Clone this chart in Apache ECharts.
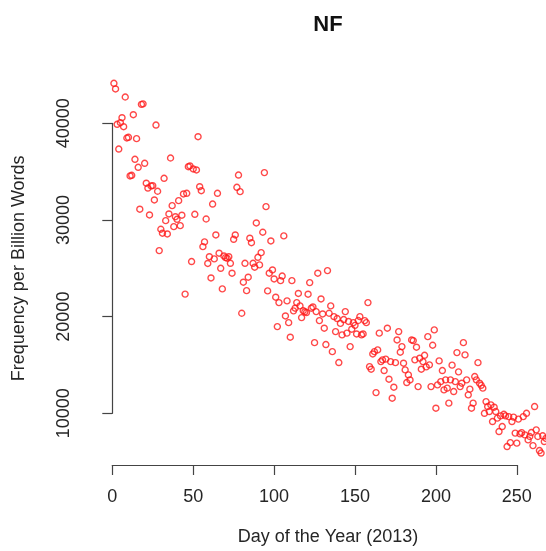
<!DOCTYPE html>
<html>
<head>
<meta charset="utf-8">
<script src="https://cdn.jsdelivr.net/npm/echarts@6/dist/echarts.min.js"></script>
<style>
html,body{margin:0;padding:0;background:#fff;}
#chart{width:546px;height:551px;}
</style>
</head>
<body>
<div id="chart"></div>
<script>
var chartTitle = "NF";
var xLabel = "Day of the Year (2013)";
var yLabel = "Frequency per Billion Words";
var xTicks = [0, 50, 100, 150, 200, 250];
var yTicks = [10000, 20000, 30000, 40000];

var days = [
  1,2,3,4,5,6,7,8,9,10,11,12,13,14,15,16,17,18,19,20,
  21,22,23,24,25,26,27,28,29,30,31,32,33,34,35,36,37,38,39,40,
  41,42,43,44,45,46,47,48,49,50,51,52,53,54,55,56,57,58,59,60,
  61,62,63,64,65,66,67,68,69,70,71,72,73,74,75,76,77,78,79,80,
  81,82,83,84,85,86,87,88,89,90,91,92,93,94,95,96,97,98,99,100,
  101,102,103,104,105,106,107,108,109,110,111,112,113,114,115,116,117,118,119,120,
  121,122,123,124,125,126,127,128,129,130,131,132,133,134,135,136,137,138,139,140,
  141,142,143,144,145,146,147,148,149,150,151,152,153,154,155,156,157,158,159,160,
  161,162,163,164,165,166,167,168,169,170,171,172,173,174,175,176,177,178,179,180,
  181,182,183,184,185,186,187,188,189,190,191,192,193,194,195,196,197,198,199,200,
  201,202,203,204,205,206,207,208,209,210,211,212,213,214,215,216,217,218,219,220,
  221,222,223,224,225,226,227,228,229,230,231,232,233,234,235,236,237,238,239,240,
  241,242,243,244,245,246,247,248,249,250,251,252,253,254,255,256,257,258,259,260,
  261,262,263,264,265,266,267,268
];
var freq = [
  44140,43550,39900,37340,40060,40580,39650,42720,38480,38550,34550,34620,40890,36280,38410,35450,31110,41960,42010,35860,
  33800,33300,30520,33520,33550,32070,39820,32970,26830,29040,28630,34310,29930,28550,30620,36410,31480,29310,30340,30070,
  32000,29410,30490,32690,22330,32760,35510,35585,25700,35275,30590,35170,38610,33440,33030,27240,27730,30100,25500,26200,
  24000,31650,25970,28450,32760,26560,25000,22870,26280,26100,26040,26200,25520,24490,28000,28450,33380,34650,32930,20350,
  23560,25520,22690,24080,28110,27650,25520,25110,29690,26140,25350,26620,28730,34900,31380,22660,24490,27830,24830,23900,
  22010,18970,21450,23720,24200,28350,20070,21630,19380,17870,23720,20600,20870,21450,22400,21110,19900,20620,20500,20420,
  22320,23520,20870,21000,17310,20520,24490,19590,21830,20280,18800,17110,24760,20350,21110,16380,20000,18450,19800,15250,
  19300,18110,19700,20520,18290,19500,16900,18700,19380,19100,18210,19600,20000,18110,18210,19590,19380,21450,14830,14560,
  16140,16380,12140,16560,18290,15350,15530,14420,15600,18800,13530,15350,11560,12700,15240,17590,18450,16320,16900,15180,
  14490,13180,13970,13450,17590,17520,15530,16840,12760,15700,14560,15350,16000,14800,17930,15010,12760,17040,18630,10530,
  12940,15420,13280,14420,12420,13460,12600,11050,13460,14980,12250,13280,16280,14290,12760,13110,17310,16040,13460,11910,
  12500,10530,11050,13800,13460,15240,13110,12900,12600,10000,11210,10700,10180,10870,9150,10630,10180,9500,8110,9730,
  8630,9900,9730,6560,9660,6970,9150,9600,7950,6910,9400,7870,8000,9660,7770,10000,7250,7600,8010,6660,
  10700,8290,7600,6150,5890,7670,7080,7400
];

var points = days.map(function (d, i) { return [d, freq[i]]; });

var FONT = "'Liberation Sans', Arial, Helvetica, sans-serif";
var chart = echarts.init(document.getElementById('chart'), null, {renderer: 'canvas'});
chart.setOption({
  animation: false,
  backgroundColor: '#ffffff',
  graphic: [{
    type: 'text',
    x: 328,
    y: 14,
    style: {
      text: chartTitle,
      textAlign: 'center',
      textVerticalAlign: 'top',
      fontFamily: FONT, fontSize: 22, fontWeight: 'bold', fill: '#111'
    }
  }],
  grid: {left: 112.3, right: 29.2, top: 123.3, bottom: 137.7, containLabel: false},
  xAxis: {
    type: 'value',
    min: xTicks[0], max: xTicks[xTicks.length - 1], interval: 50,
    offset: 51.7,
    name: xLabel,
    nameLocation: 'middle',
    nameGap: 63,
    nameTextStyle: {fontFamily: FONT, fontSize: 18, color: '#262626', padding: [0, 0, 0, 27]},
    axisLine: {show: true, lineStyle: {color: '#444', width: 1.2}},
    axisTick: {show: true, length: 10, lineStyle: {color: '#444', width: 1.2}},
    axisLabel: {fontFamily: FONT, fontSize: 18, color: '#262626', margin: 23,
      formatter: function (v) { return String(v); }},
    splitLine: {show: false}
  },
  yAxis: {
    type: 'value',
    min: yTicks[0], max: yTicks[yTicks.length - 1], interval: 10000,
    offset: 16.3,
    name: yLabel,
    nameLocation: 'middle',
    nameGap: 68,
    nameTextStyle: {fontFamily: FONT, fontSize: 18, color: '#262626'},
    axisLine: {show: true, lineStyle: {color: '#444', width: 1.2}},
    axisTick: {show: true, length: 10, lineStyle: {color: '#444', width: 1.2}},
    axisLabel: {fontFamily: FONT, fontSize: 18, color: '#262626', rotate: 90, margin: 23,
      formatter: function (v) { return String(v); }},
    splitLine: {show: false}
  },
  series: [{
    type: 'scatter',
    data: points,
    clip: false,
    symbol: 'circle',
    symbolSize: 6,
    itemStyle: {color: 'rgba(255,255,255,0)', borderColor: '#ff1a1a', borderWidth: 1.4}
  }]
});
</script>
</body>
</html>
